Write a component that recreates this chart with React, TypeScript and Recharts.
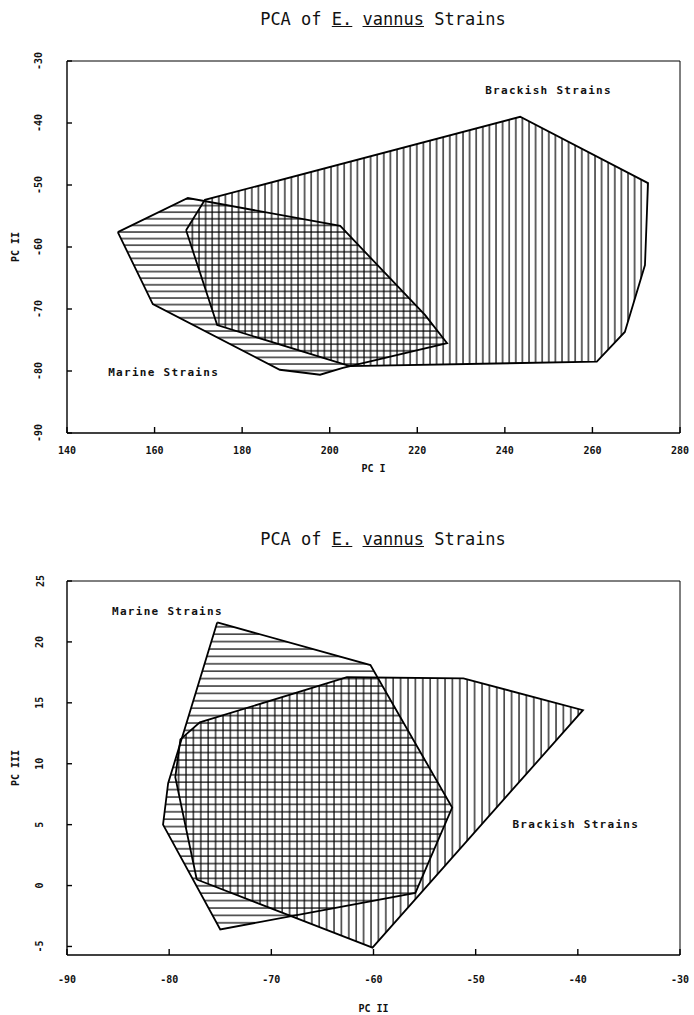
import React from "react";
import { ScatterChart, Scatter, XAxis, YAxis, ReferenceLine, ReferenceDot } from "recharts";

const FONT = '"DejaVu Sans Mono", monospace';

// Chart 1: PC I (x) vs PC II (y)
const pc1Ticks = [140, 160, 180, 200, 220, 240, 260, 280];
const pc2TicksY = [-90, -80, -70, -60, -50, -40, -30];
const brackishTopX = [167.2, 171.5, 243.5, 272.7, 272.0, 267.4, 261.0, 204.6, 174.3];
const brackishTopY = [-57.3, -52.4, -39.0, -49.7, -62.9, -73.7, -78.5, -79.2, -72.6];
const marineTopX = [151.6, 167.6, 202.4, 221.8, 226.8, 203.0, 197.8, 188.6, 159.6];
const marineTopY = [-57.6, -52.1, -56.6, -71.0, -75.5, -79.5, -80.6, -79.8, -69.2];

// Chart 2: PC II (x) vs PC III (y)
const pc2TicksX = [-90, -80, -70, -60, -50, -40, -30];
const pc3Ticks = [-5, 0, 5, 10, 15, 20, 25];
const brackishBotX = [-77.3, -79.4, -78.9, -77.0, -62.6, -51.2, -39.5, -60.1];
const brackishBotY = [0.5, 8.9, 12.0, 13.4, 17.1, 17.0, 14.4, -5.1];
const marineBotX = [-75.3, -60.3, -52.3, -55.9, -75.0, -80.6, -80.1];
const marineBotY = [21.6, 18.1, 6.4, -0.6, -3.6, 5.0, 8.4];

// closed outline: repeat first vertex at the end
const toPoly = (xs: number[], ys: number[]) => [
  ...xs.map((x, i) => ({ x, y: ys[i] })),
  { x: xs[0], y: ys[0] },
];

const noDot = () => <g />;

const XTick = ({ x, y, payload }: any) => (
  <text x={x} y={y} textAnchor="middle" dominantBaseline="central" fontFamily={FONT} fontSize={10} fontWeight="bold" fill="#111">
    {payload.value}
  </text>
);

const YTick = ({ x, y, payload }: any) => (
  <text x={x} y={y} transform={`rotate(-90 ${x} ${y})`} textAnchor="middle" dominantBaseline="central" fontFamily={FONT} fontSize={10} fontWeight="bold" fill="#111">
    {payload.value}
  </text>
);

const xTitle = (text: string, dy: number) => ({ viewBox }: any) => (
  <text x={viewBox.x + viewBox.width / 2} y={viewBox.y + dy} textAnchor="middle" dominantBaseline="central" fontFamily={FONT} fontSize={10} fontWeight="bold" fill="#111">
    {text}
  </text>
);

const yTitle = (text: string) => ({ viewBox }: any) => {
  const cx = viewBox.x + 15;
  const cy = viewBox.y + viewBox.height / 2;
  return (
    <text x={cx} y={cy} transform={`rotate(-90 ${cx} ${cy})`} textAnchor="middle" dominantBaseline="central" fontFamily={FONT} fontSize={10} fontWeight="bold" fill="#111">
      {text}
    </text>
  );
};

const note = (text: string) => ({ viewBox }: any) => (
  <text x={viewBox.x} y={viewBox.y} dominantBaseline="central" fontFamily={FONT} fontSize={11} fontWeight="bold" letterSpacing={1.3} fill="#111">
    {text}
  </text>
);

const Title = ({ top }: { top: number }) => (
  <div style={{ position: "absolute", left: 0, top, width: 766, textAlign: "center", fontFamily: FONT, fontSize: 17, lineHeight: "20px", color: "#111" }}>
    PCA of <u>E.</u> <u>vannus</u> Strains
  </div>
);

export default function App() {
  return (
    <div style={{ position: "absolute", left: 0, top: 0, width: 694, height: 1015, background: "#fff", overflow: "hidden" }}>
      <svg width={0} height={0} style={{ position: "absolute" }}>
        <defs>
          <pattern id="vTop" width={6.6} height={10} patternUnits="userSpaceOnUse">
            <line x1={1} y1={0} x2={1} y2={10} stroke="#000" strokeWidth={1.2} />
          </pattern>
          <pattern id="hTop" width={10} height={6.6} patternUnits="userSpaceOnUse">
            <line x1={0} y1={1} x2={10} y2={1} stroke="#000" strokeWidth={1.2} />
          </pattern>
          <pattern id="vBot" width={7.4} height={10} patternUnits="userSpaceOnUse">
            <line x1={1} y1={0} x2={1} y2={10} stroke="#000" strokeWidth={1.2} />
          </pattern>
          <pattern id="hBot" width={10} height={7.4} patternUnits="userSpaceOnUse">
            <line x1={0} y1={1} x2={10} y2={1} stroke="#000" strokeWidth={1.2} />
          </pattern>
        </defs>
      </svg>

      <Title top={9} />
      <div style={{ position: "absolute", left: 0, top: 0 }}>
        <ScatterChart width={694} height={480} margin={{ top: 61, right: 14, bottom: 0, left: 0 }}>
          <XAxis type="number" dataKey="x" domain={[140, 280]} ticks={pc1Ticks} interval={0} allowDataOverflow
            height={47} stroke="#000" strokeWidth={1.4} tickSize={-6} tickMargin={23} tick={<XTick />} label={xTitle("PC I", 35)} />
          <YAxis type="number" dataKey="y" domain={[-90, -30]} ticks={pc2TicksY} interval={0} allowDataOverflow
            width={67} stroke="#000" strokeWidth={1.4} tickSize={-5} tickMargin={34} tick={<YTick />} label={yTitle("PC II")} />
          <ReferenceLine y={-30} stroke="#000" strokeWidth={1} />
          <ReferenceLine x={280} stroke="#000" strokeWidth={1} />
          <Scatter data={toPoly(brackishTopX, brackishTopY)} line={{ fill: "url(#vTop)", stroke: "#000", strokeWidth: 1.8 }}
            shape={noDot} isAnimationActive={false} />
          <Scatter data={toPoly(marineTopX, marineTopY)} line={{ fill: "url(#hTop)", stroke: "#000", strokeWidth: 1.8 }}
            shape={noDot} isAnimationActive={false} />
          <ReferenceDot x={235.5} y={-34.8} r={0} fill="none" stroke="none" label={note("Brackish Strains")} />
          <ReferenceDot x={149.4} y={-80.2} r={0} fill="none" stroke="none" label={note("Marine Strains")} />
        </ScatterChart>
      </div>

      <Title top={529} />
      <div style={{ position: "absolute", left: 0, top: 500 }}>
        <ScatterChart width={694} height={515} margin={{ top: 81, right: 14, bottom: 0, left: 0 }}>
          <XAxis type="number" dataKey="x" domain={[-90, -30]} ticks={pc2TicksX} interval={0} allowDataOverflow
            height={60} stroke="#000" strokeWidth={1.4} tickSize={-6} tickMargin={30} tick={<XTick />} label={xTitle("PC II", 53)} />
          <YAxis type="number" dataKey="y" domain={[-5.7, 25]} ticks={pc3Ticks} interval={0} allowDataOverflow
            width={67} stroke="#000" strokeWidth={1.4} tickSize={-5} tickMargin={32} tick={<YTick />} label={yTitle("PC III")} />
          <ReferenceLine y={25} stroke="#000" strokeWidth={1} />
          <ReferenceLine x={-30} stroke="#000" strokeWidth={1} />
          <Scatter data={toPoly(brackishBotX, brackishBotY)} line={{ fill: "url(#vBot)", stroke: "#000", strokeWidth: 1.8 }}
            shape={noDot} isAnimationActive={false} />
          <Scatter data={toPoly(marineBotX, marineBotY)} line={{ fill: "url(#hBot)", stroke: "#000", strokeWidth: 1.8 }}
            shape={noDot} isAnimationActive={false} />
          <ReferenceDot x={-85.6} y={22.5} r={0} fill="none" stroke="none" label={note("Marine Strains")} />
          <ReferenceDot x={-46.4} y={5.0} r={0} fill="none" stroke="none" label={note("Brackish Strains")} />
        </ScatterChart>
      </div>
    </div>
  );
}
